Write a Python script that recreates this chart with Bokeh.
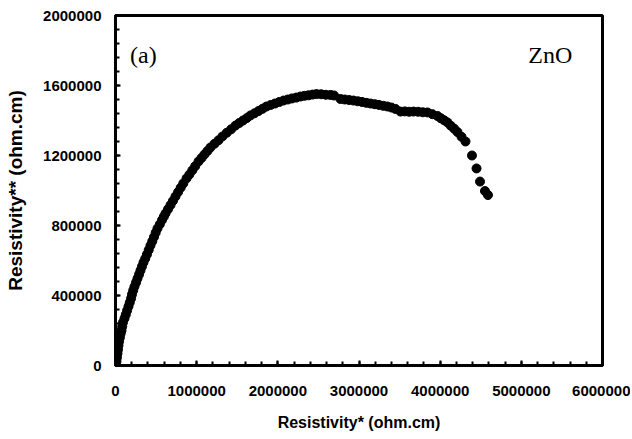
from bokeh.plotting import figure
from bokeh.models import Range1d, SingleIntervalTicker, BasicTickFormatter, Label, ColumnDataSource
from bokeh.embed import file_html
from bokeh.resources import INLINE

# Data (ohm.cm)
rho_real = [6000, 12000, 18000, 25000, 31000, 37000, 44000, 54000, 64000, 74000,
            83000, 92000, 111000, 127000, 143000, 160000, 176000, 192000, 203000, 218000,
            234000, 253000, 271000, 290000, 308000, 326000, 345000, 366000, 387000, 409000,
            431000, 453000, 474000, 495000, 517000, 546000, 573000, 596000, 616000, 647000,
            678000, 708000, 739000, 771000, 803000, 835000, 875000, 910000, 946000, 982000,
            1023000, 1060000, 1096000, 1133000, 1170000, 1220000, 1269000, 1318000, 1371000, 1425000,
            1478000, 1525000, 1571000, 1618000, 1663000, 1712000, 1762000, 1811000, 1860000, 1913000,
            1965000, 2018000, 2070000, 2123000, 2174000, 2227000, 2279000, 2328000, 2378000, 2427000,
            2476000, 2534000, 2591000, 2649000, 2692000, 2772000, 2825000, 2879000, 2932000, 2985000,
            3037000, 3090000, 3142000, 3195000, 3246000, 3299000, 3351000, 3400000, 3450000, 3511000,
            3564000, 3618000, 3671000, 3729000, 3786000, 3844000, 3905000, 3967000, 4008000, 4050000,
            4090000, 4131000, 4173000, 4213000, 4263000, 4312000, 4392000, 4448000, 4491000, 4552000,
            4589000]
rho_imag = [0, 23000, 46000, 69000, 91000, 114000, 137000, 160000, 183000, 200000,
            223000, 246000, 269000, 291000, 314000, 337000, 360000, 383000, 406000, 429000,
            451000, 474000, 497000, 520000, 543000, 566000, 589000, 611000, 634000, 660000,
            686000, 710000, 734000, 759000, 783000, 807000, 831000, 851000, 869000, 893000,
            917000, 941000, 966000, 991000, 1016000, 1040000, 1069000, 1091000, 1115000, 1139000,
            1166000, 1186000, 1206000, 1226000, 1246000, 1267000, 1287000, 1309000, 1330000, 1350000,
            1371000, 1386000, 1400000, 1414000, 1429000, 1441000, 1454000, 1467000, 1480000, 1489000,
            1497000, 1506000, 1514000, 1520000, 1526000, 1531000, 1537000, 1541000, 1544000, 1548000,
            1551000, 1550000, 1547000, 1546000, 1543000, 1523000, 1520000, 1517000, 1514000, 1510000,
            1506000, 1501000, 1497000, 1493000, 1489000, 1484000, 1480000, 1474000, 1466000, 1451000,
            1452000, 1450000, 1451000, 1450000, 1447000, 1446000, 1436000, 1426000, 1413000, 1401000,
            1389000, 1370000, 1353000, 1334000, 1307000, 1280000, 1200000, 1126000, 1051000, 997000,
            974000]

x_label = "Resistivity* (ohm.cm)"
y_label = "Resistivity** (ohm.cm)"
panel_tag = "(a)"
material = "ZnO"

src = ColumnDataSource(dict(x=rho_real, y=rho_imag))

p = figure(width=630, height=435, output_backend="svg", toolbar_location=None,
           x_range=Range1d(0, 6000000), y_range=Range1d(0, 2000000),
           min_border_left=115, min_border_top=15, min_border_right=28, min_border_bottom=70)

p.scatter("x", "y", source=src, size=9, marker="circle",
          fill_color="black", line_color="black")

p.xgrid.visible = False
p.ygrid.visible = False
p.background_fill_color = "white"
p.border_fill_color = "white"
p.outline_line_color = "black"
p.outline_line_width = 3
p.outline_line_alpha = 1

p.xaxis.ticker = SingleIntervalTicker(interval=1000000, num_minor_ticks=5)
p.yaxis.ticker = SingleIntervalTicker(interval=400000, num_minor_ticks=5)

for ax in (p.xaxis, p.yaxis):
    ax.formatter = BasicTickFormatter(use_scientific=False)
    ax.axis_line_width = 3
    ax.axis_line_color = "black"
    ax.major_tick_in = 5
    ax.major_tick_out = 0
    ax.minor_tick_in = 4
    ax.minor_tick_out = 0
    ax.major_tick_line_width = 2
    ax.minor_tick_line_width = 2
    ax.major_tick_line_color = "black"
    ax.minor_tick_line_color = "black"
    ax.major_label_text_font = "Liberation Sans"
    ax.major_label_text_font_style = "bold"
    ax.major_label_text_font_size = "15px"
    ax.major_label_text_color = "black"
    ax.axis_label_text_font = "Liberation Sans"
    ax.axis_label_text_font_style = "bold"
    ax.axis_label_text_color = "black"

p.xaxis.axis_label = x_label
p.yaxis.axis_label = y_label
p.xaxis.axis_label_text_font_size = "16px"
p.yaxis.axis_label_text_font_size = "19px"
p.xaxis.major_label_standoff = 20
p.xaxis.axis_label_standoff = 15
p.yaxis.major_label_standoff = 14
p.yaxis.axis_label_standoff = 14

p.add_layout(Label(x=180000, y=1775000, text=panel_tag, text_font="Liberation Serif",
                   text_font_size="24px", text_baseline="middle", text_align="left",
                   text_color="black"))
p.add_layout(Label(x=5085000, y=1775000, text=material, text_font="Liberation Serif",
                   text_font_size="24px", text_baseline="middle", text_align="left",
                   text_color="black"))

open("out.html", "w").write(file_html(p, INLINE))
